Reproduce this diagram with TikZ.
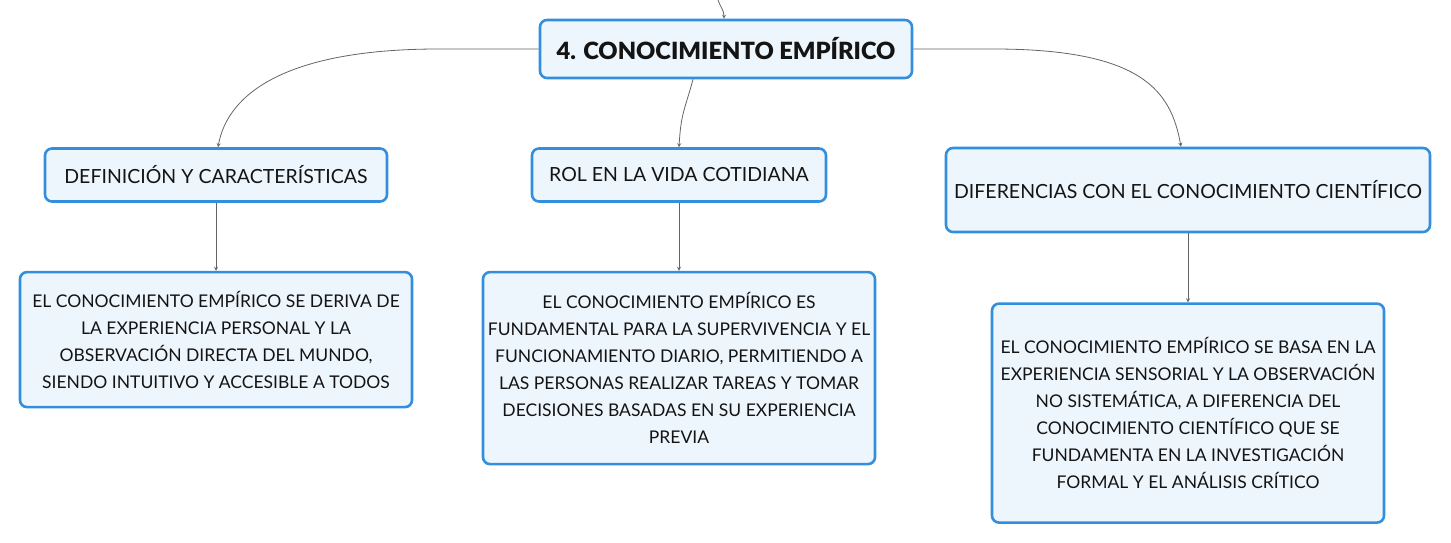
\documentclass[tikz,border=0pt]{standalone}
\usepackage{fontspec}
\setmainfont{Lato}
\newfontfamily\titlefont{Lato Black}
\usepackage{tikz}
\usetikzlibrary{arrows, positioning}

\definecolor{boxline}{RGB}{52,142,222}
\definecolor{boxfill}{RGB}{238,246,253}
\definecolor{linkgray}{RGB}{100,100,100}
\definecolor{inkblack}{RGB}{20,20,20}

\begin{document}
\begin{tikzpicture}[
    x=1pt, y=-1pt,
    box/.style={rectangle, draw=boxline, fill=boxfill, line width=2.6pt, rounded corners=7pt, align=center, text=inkblack, inner sep=0pt},
    root/.style={box, minimum width=372pt, minimum height=58pt, font={\fontsize{23.7}{26}\titlefont\selectfont}},
    branch/.style={box, font={\fontsize{19.5}{27}\selectfont}},
    detail/.style={box, minimum width=392pt, font={\fontsize{17.5}{27}\selectfont}},
    arrow/.style={->, >=stealth, draw=linkgray, line width=0.8pt}
]
\useasboundingbox (0,0) rectangle (1451,543);

% Root
\node[root] (root) at (726,49) {4. CONOCIMIENTO EMPÍRICO};
\coordinate (top) at (718,0);

% Branches
\node[branch, minimum width=342pt, minimum height=53pt] (defn) at (216,175) {DEFINICIÓN Y CARACTERÍSTICAS};
\node[branch, minimum width=294pt, minimum height=53pt] (role) at (679,175) {ROL EN LA VIDA COTIDIANA};
\node[branch, minimum width=484pt, minimum height=84pt] (diff) at (1188,190) {DIFERENCIAS CON EL CONOCIMIENTO CIENTÍFICO};

% Details
\node[detail, minimum height=135pt, below=68pt of defn] (defntext) {EL CONOCIMIENTO EMPÍRICO SE DERIVA DE\\LA EXPERIENCIA PERSONAL Y LA\\OBSERVACIÓN DIRECTA DEL MUNDO,\\SIENDO INTUITIVO Y ACCESIBLE A TODOS};
\node[detail, minimum height=192pt, below=68pt of role] (roletext) {EL CONOCIMIENTO EMPÍRICO ES\\FUNDAMENTAL PARA LA SUPERVIVENCIA Y EL\\FUNCIONAMIENTO DIARIO, PERMITIENDO A\\LAS PERSONAS REALIZAR TAREAS Y TOMAR\\DECISIONES BASADAS EN SU EXPERIENCIA\\PREVIA};
\node[detail, minimum height=219pt, below=69pt of diff] (difftext) {EL CONOCIMIENTO EMPÍRICO SE BASA EN LA\\EXPERIENCIA SENSORIAL Y LA OBSERVACIÓN\\NO SISTEMÁTICA, A DIFERENCIA DEL\\CONOCIMIENTO CIENTÍFICO QUE SE\\FUNDAMENTA EN LA INVESTIGACIÓN\\FORMAL Y EL ANÁLISIS CRÍTICO};

% Arrows
\draw[arrow] (top) .. controls +(3,8) and +(0,-8) .. ([xshift=-2pt]root.north);
\draw[arrow] (root.west) -- +(-100,0) .. controls +(-150,0) and +(10,-55) .. ([xshift=2pt]defn.north);
\draw[arrow] ([xshift=-33pt]root.south) .. controls +(-8,30) and +(2,-35) .. (role.north);
\draw[arrow] (root.east) -- +(80,0) .. controls +(150,0) and +(-10,-55) .. ([xshift=-7pt]diff.north);

\draw[arrow] (defn) -- (defntext);
\draw[arrow] (role) -- (roletext);
\draw[arrow] (diff) -- (difftext);

\end{tikzpicture}
\end{document}
